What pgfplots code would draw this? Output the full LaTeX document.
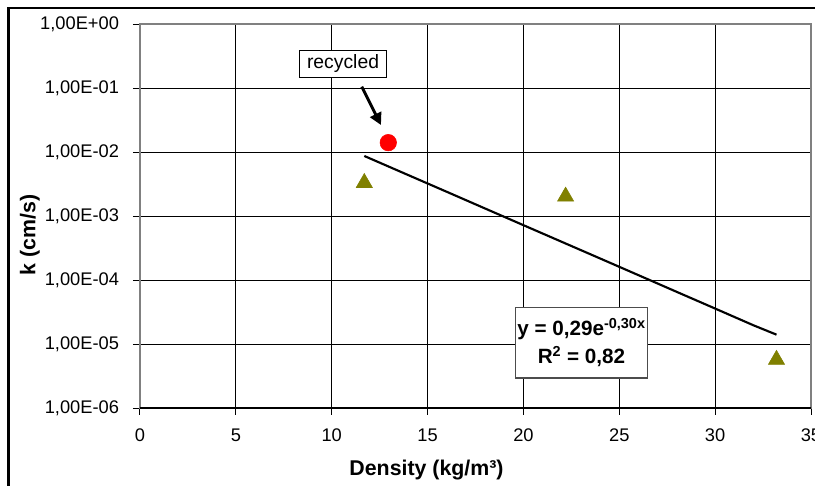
\documentclass[border=0pt]{standalone}
\usepackage{fontspec}
\setmainfont{Liberation Sans}
\usepackage{pgfplots}
\pgfplotsset{compat=1.18}
\usetikzlibrary{arrows.meta}
\definecolor{olive}{RGB}{128,128,0}
\begin{document}
\begin{tikzpicture}
\useasboundingbox (0,0) rectangle (611.25pt,364.5pt);
\clip (0,0) rectangle (611.25pt,364.5pt);
\fill[white] (0,0) rectangle (611.25pt,364.5pt);
\begin{axis}[
  at={(105pt,58.5pt)}, anchor=south west,
  scale only axis, width=503.25pt, height=288pt,
  xmin=0, xmax=35, ymin=1e-6, ymax=1,
  ymode=log,
  clip=false,
  xtick={0,5,10,15,20,25,30,35},
  xticklabels={0,5,10,15,20,25,30,35},
  ytick={1e-6,1e-5,1e-4,1e-3,1e-2,1e-1,1},
  yticklabels={{1,00E-06},{1,00E-05},{1,00E-04},{1,00E-03},{1,00E-02},{1,00E-01},{1,00E+00}},
  minor ytick={}, yminorticks=false,
  /pgf/number format/assume math mode=true,
  tick align=outside, tick pos=left,
  major tick length=5.25pt,
  tick style={black, line width=0.75pt},
  grid=major,
  major grid style={black, line width=0.7pt},
  axis line style={draw=gray, line width=1.5pt},
  ticklabel style={font=\fontsize{13.7}{16}\selectfont},
  yticklabel style={xshift=-7pt},
  xticklabel style={yshift=-7pt},
  xlabel={Density (kg/m³)},
  ylabel={k (cm/s)},
  xlabel style={at={(axis description cs:0.427,-0.1745)}, anchor=base, font=\bfseries\fontsize{16}{19}\selectfont},
  ylabel style={at={(axis description cs:-0.164,0.4505)}, anchor=center, font=\bfseries\fontsize{16}{19}\selectfont},
]
\draw[black, line width=0.9pt] (rel axis cs:0,0) -- (rel axis cs:1,0);
% trendline
\addplot[black, line width=1.6pt, no marks] coordinates {
 (11.7,8.67e-3) (12.5,6.82e-3) (14,4.35e-3) (16,2.39e-3) (18,1.31e-3) (20,7.19e-4)
 (22,3.95e-4) (24,2.17e-4) (26,1.19e-4) (28,6.52e-5) (30,3.58e-5)
 (32,1.96e-5) (33.2,1.40e-5)
};
% data
\addplot[only marks, mark=triangle*, mark size=7pt, color=olive, mark options={fill=olive, draw=olive}] coordinates {
 (11.7,3.30e-3) (22.2,2.02e-3) (33.2,5.69e-6)
};
\addplot[only marks, mark=*, mark size=6.2pt, color=red, mark options={fill=red, draw=red}] coordinates {
 (12.95,1.40e-2)
};
\draw[-{Triangle[length=9pt,width=9pt]}, line width=2.2pt] (axis cs:11.565,0.105) -- (axis cs:12.57,0.0264);
\node[draw=black, fill=white, line width=0.75pt, minimum width=65pt, minimum height=20.25pt, inner sep=0pt, font=\fontsize{14.5}{17}\selectfont] at (axis cs:10.59,0.241) {recycled};
\node[draw=black!70, fill=white, line width=0.9pt, minimum width=98.7pt, minimum height=53pt, inner sep=0pt, align=center, font=\bfseries\fontsize{15.5}{21}\selectfont] at (axis cs:23.03,1.05e-5) {y = 0,29e\textsuperscript{-0,30x}\\R\textsuperscript{2} = 0,82};
\end{axis}
\draw[black, line width=1.9pt] (6.5pt,-20pt) rectangle (640pt,358.65pt);
\end{tikzpicture}
\end{document}
